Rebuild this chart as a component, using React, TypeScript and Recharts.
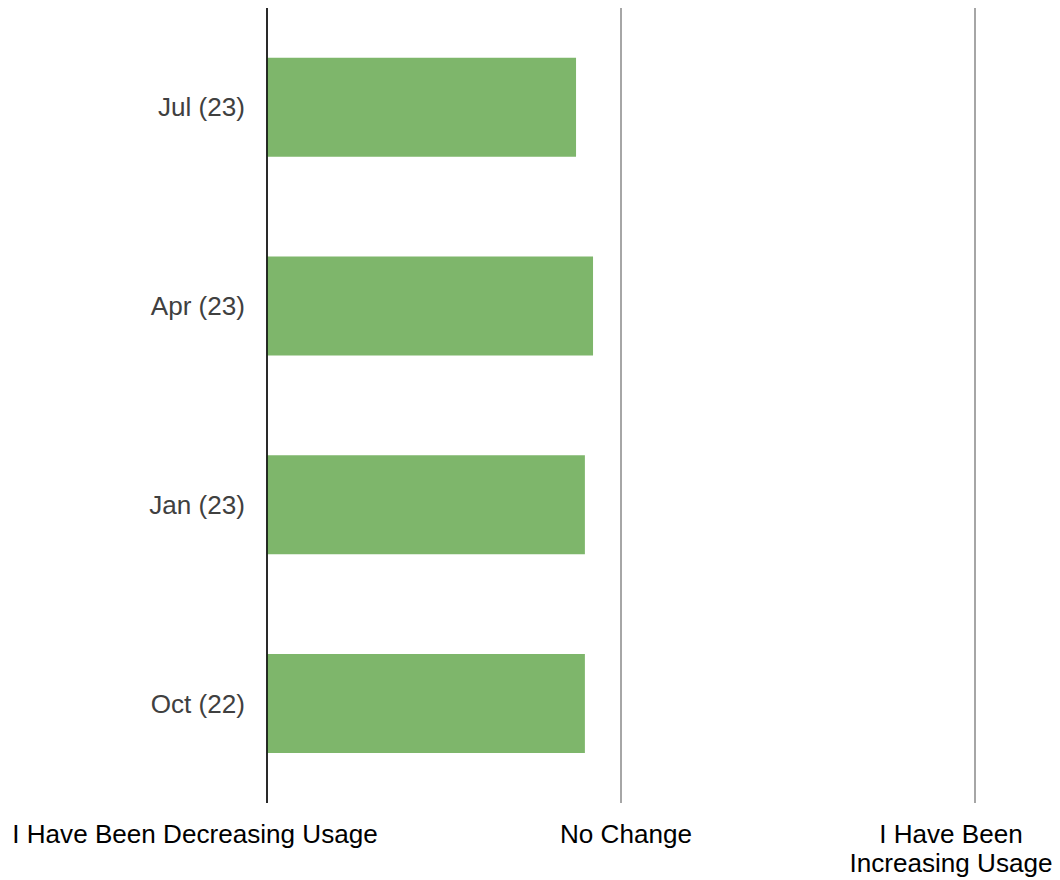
import React from 'react';
import { BarChart, Bar, XAxis, YAxis, CartesianGrid } from 'recharts';

const categories = ['Jul (23)', 'Apr (23)', 'Jan (23)', 'Oct (22)'];
const usageValues = [1.873, 1.921, 1.898, 1.898];
const xTickValues = [1, 2, 3];
const xTickLabels = [
  ['I Have Been Decreasing Usage'],
  ['No Change'],
  ['I Have Been', 'Increasing Usage'],
];

const data = categories.map((c, i) => ({ name: c, value: usageValues[i] }));

const FONT = '"Liberation Sans", Arial, sans-serif';
const FS = 26.1;
const labelShift = [-72, 5, -24];

const XTick = (props: any) => {
  const { x, y, payload, index } = props;
  const lines = xTickLabels[index] || [String(payload.value)];
  const cx = x + (labelShift[index] || 0);
  return (
    <text x={cx} y={y} textAnchor="middle" fontFamily={FONT} fontSize={FS} fill="#000">
      {lines.map((l: string, i: number) => (
        <tspan key={i} x={cx} dy={i === 0 ? 32 : 29}>
          {l}
        </tspan>
      ))}
    </text>
  );
};

const YTick = (props: any) => {
  const { x, y, payload } = props;
  return (
    <text x={x} y={y} dy={9} textAnchor="end" fontFamily={FONT} fontSize={FS} fill="#404040">
      {payload.value}
    </text>
  );
};

export default function App() {
  return (
    <BarChart
      width={1052}
      height={872}
      data={data}
      layout="vertical"
      margin={{ top: 0, right: 85, bottom: 0, left: 0 }}
      barCategoryGap="25%"
      style={{ overflow: 'visible' }}
    >
      <CartesianGrid horizontal={false} stroke="#a6a6a6" strokeWidth={2} />
      <XAxis
        type="number"
        domain={[1, 3]}
        ticks={xTickValues}
        axisLine={false}
        tickLine={false}
        height={77}
        tick={<XTick />}
        interval={0}
      />
      <YAxis
        type="category"
        dataKey="name"
        width={259}
        axisLine={{ stroke: '#000', strokeWidth: 1.5 }}
        tickLine={false}
        tick={<YTick />}
        tickMargin={16}
      />
      <Bar dataKey="value" fill="#7EB66B" isAnimationActive={false} />
    </BarChart>
  );
}
